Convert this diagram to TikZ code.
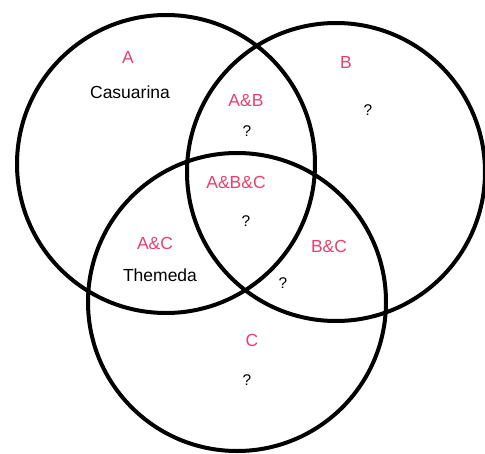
\documentclass[tikz,border=0pt]{standalone}
\usepackage{fontspec}
\setmainfont{Liberation Sans}
\usetikzlibrary{positioning}
\definecolor{setred}{RGB}{232,64,110}
\tikzset{
  set/.style      = {draw, circle, line width=4pt, minimum size=298pt, inner sep=0pt},
  setname/.style  = {text=setred, font=\fontsize{17.5}{20}\selectfont},
  member/.style   = {font=\fontsize{17.5}{20}\selectfont},
  unknown/.style  = {font=\fontsize{15.5}{18}\selectfont}
}

\begin{document}
\begin{tikzpicture}[x=1pt, y=-1pt]
      \useasboundingbox (0,0) rectangle (485,453);
      \node[set] (a) at (166,164) {};
      \node[set] (b) at (336,172) {};
      \node[set] (c) at (237,302) {};
      % set names
      \node[setname] (na) at (128,57) {A};
      \node[setname] (nb) at (346,62) {B};
      \node[setname] (nc) at (252,340) {C};
      \node[setname] (nab) at (246,101) {A\&B};
      \node[setname] (nabc) at (236,182) {A\&B\&C};
      \node[setname] (nac) at (155,243) {A\&C};
      \node[setname] (nbc) at (329,246) {B\&C};
      % contents
      \node[member] (casuarina) at (130,92) {Casuarina};
      \node[member] (themeda) at (160,275) {Themeda};
      \node[unknown] (qb) at (368,110) {?};
      \node[unknown] (qab) at (247,131) {?};
      \node[unknown] (qabc) at (246,221) {?};
      \node[unknown] (qbc) at (283,283) {?};
      \node[unknown] (qc) at (247,380) {?};
    \end{tikzpicture}
\end{document}
